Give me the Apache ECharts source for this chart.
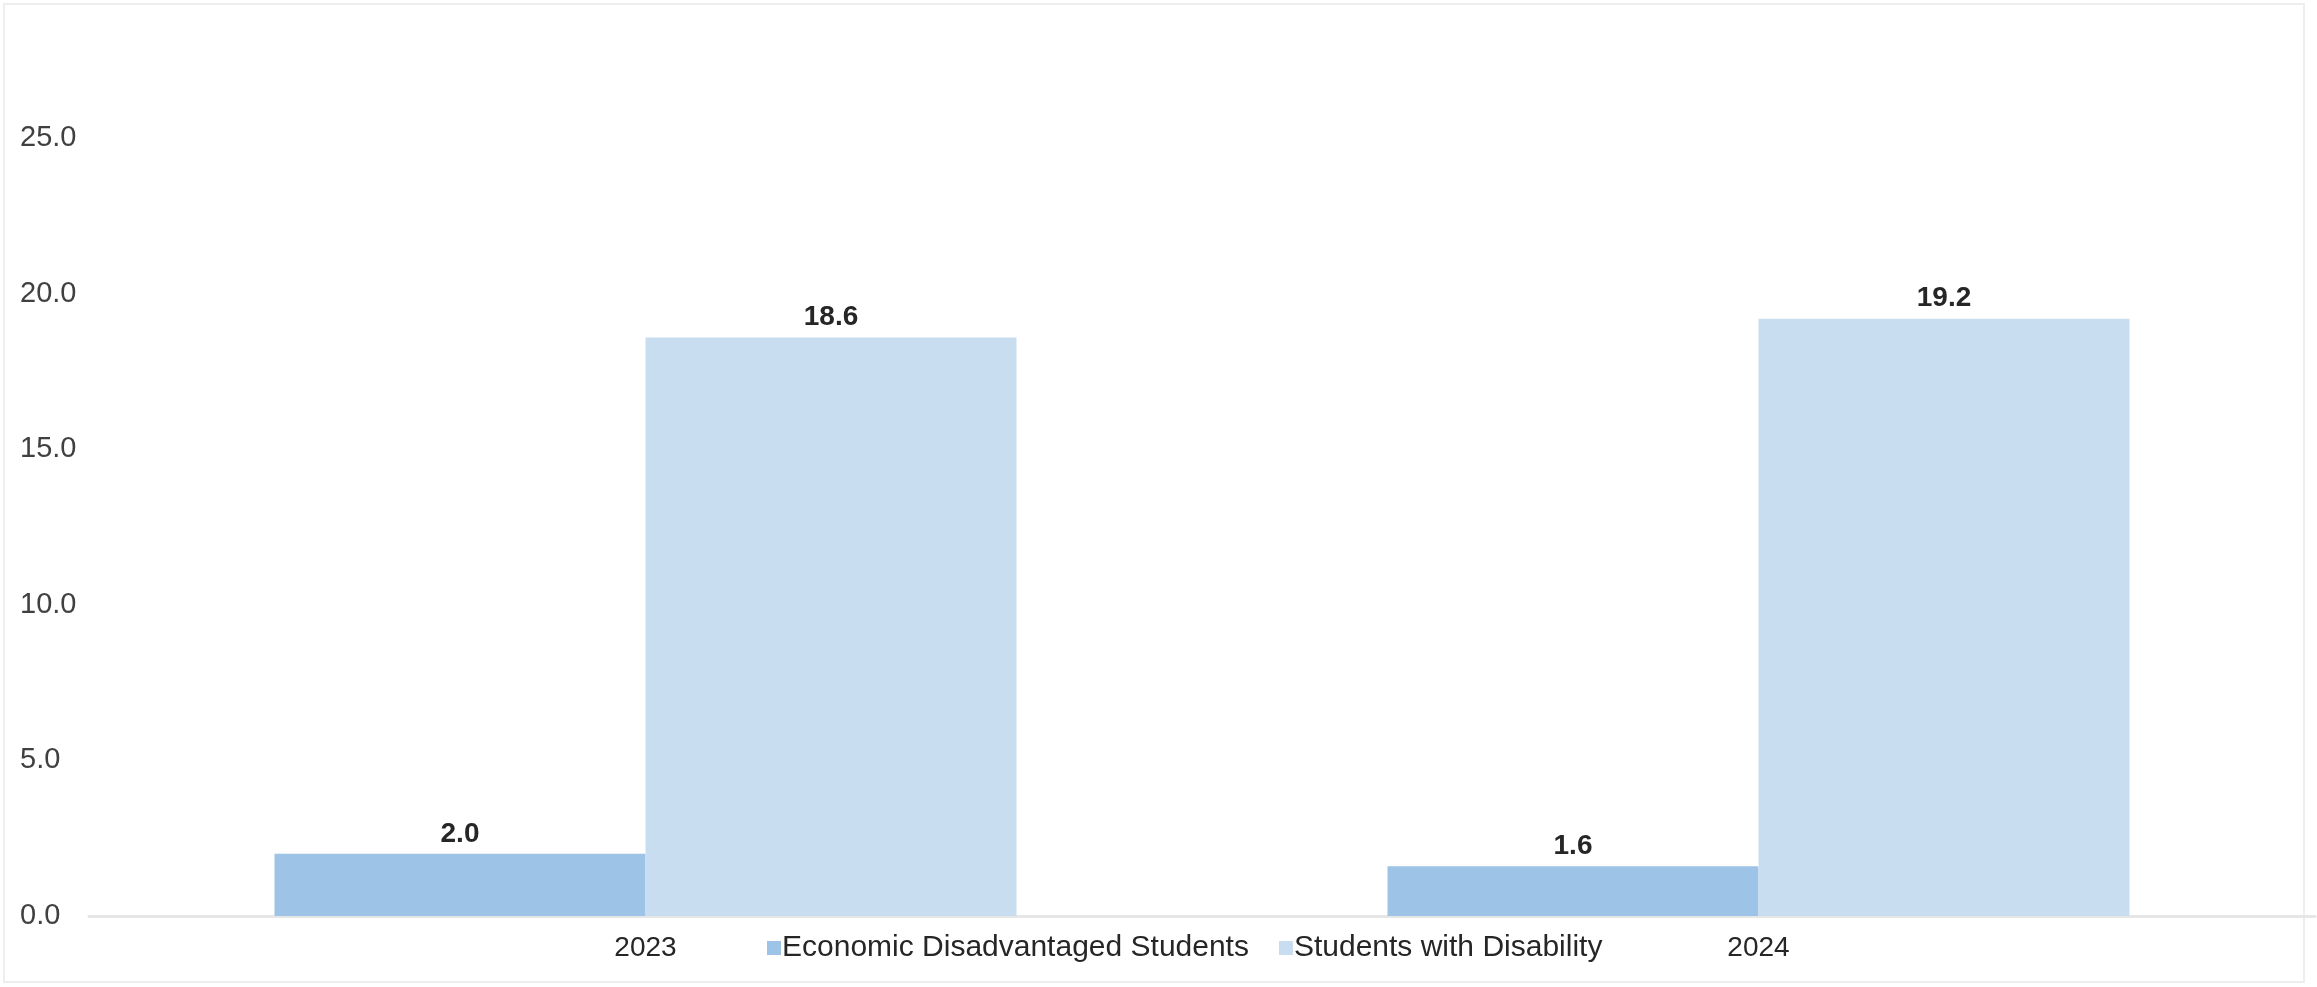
<!DOCTYPE html>
<html>
<head>
<meta charset="utf-8">
<script src="https://cdn.jsdelivr.net/npm/echarts@6/dist/echarts.min.js"></script>
<style>
  html, body { margin: 0; padding: 0; background: #fff; }
  #frame { position: absolute; left: 3px; top: 3px; width: 2302px; height: 980px; border: 2px solid #eeeeee; box-sizing: border-box; }
  #chart { position: absolute; left: 0; top: 0; width: 2317px; height: 987px; }
</style>
</head>
<body>
<div id="frame"></div>
<div id="chart"></div>
<script>
const categories = ['2023', '2024'];
const seriesNames = ['Economic Disadvantaged Students', 'Students with Disability'];
const economicValues = [2.0, 1.6];
const disabilityValues = [18.6, 19.2];
const yTicks = [0, 5, 10, 15, 20, 25];

const chart = echarts.init(document.getElementById('chart'));
const fontFamily = '"Liberation Sans", Arial, sans-serif';
const labelStyle = {
  show: true, position: 'top', distance: 6,
  fontFamily: fontFamily, fontSize: 28, fontWeight: 'bold', color: '#262626',
  formatter: p => p.value.toFixed(1)
};
chart.setOption({
  animation: false,
  backgroundColor: 'transparent',
  textStyle: { fontFamily: fontFamily },
  grid: { left: 89, right: 2, top: 45, bottom: 71, containLabel: false },
  legend: {
    data: seriesNames,
    left: 762, top: 928,
    itemWidth: 14, itemHeight: 14, itemGap: 30,
    icon: 'rect',
    textStyle: { fontFamily: fontFamily, fontSize: 30, color: '#262626', padding: [0, 0, 0, -4] }
  },
  xAxis: {
    type: 'category',
    data: categories,
    axisLine: { show: true, lineStyle: { color: '#e6e6e6', width: 3 } },
    axisTick: { show: false },
    axisLabel: { fontFamily: fontFamily, fontSize: 28, color: '#262626', margin: 18 }
  },
  yAxis: {
    type: 'value',
    min: 0, max: 28, interval: 5,
    splitLine: { show: false },
    axisLine: { show: false },
    axisTick: { show: false },
    axisLabel: {
      fontFamily: fontFamily, fontSize: 29, color: '#404040',
      align: 'left', margin: 69,
      showMaxLabel: false,
      formatter: v => yTicks.indexOf(v) >= 0 ? v.toFixed(1) : ''
    }
  },
  series: [
    {
      name: seriesNames[0], type: 'bar', data: economicValues,
      barWidth: 371, barGap: '0%',
      itemStyle: { color: '#9dc3e6' },
      label: labelStyle
    },
    {
      name: seriesNames[1], type: 'bar', data: disabilityValues,
      barWidth: 371, barGap: '0%',
      itemStyle: { color: '#c9ddf1' },
      label: labelStyle
    }
  ]
});
</script>
</body>
</html>
